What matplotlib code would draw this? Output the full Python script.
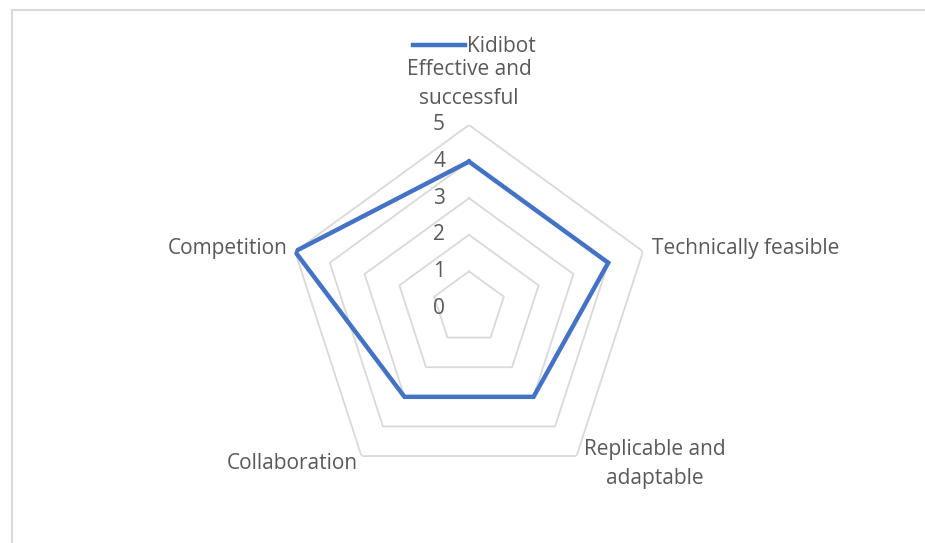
import numpy as np
import matplotlib.pyplot as plt
from matplotlib.lines import Line2D

categories = ['Effective and\nsuccessful', 'Technically feasible', 'Replicable and\nadaptable',
              'Collaboration', 'Competition']
kidibot = [4, 4, 3, 3, 5]
rings = [1, 2, 3, 4, 5]

plt.rcParams['font.family'] = ['Open Sans', 'DejaVu Sans']
text_color = '#595959'
grid_color = '#D9D9D9'
blue = '#4472C4'
fs = 15

fig = plt.figure(figsize=(9.25, 5.43), dpi=100)
ax = fig.add_axes([286 / 925, 52 / 543, 366 / 925, 366 / 543], projection='polar')
ax.set_theta_zero_location('N')
ax.set_theta_direction(-1)
ax.set_ylim(0, 5)
ax.grid(False)
ax.set_xticks([])
ax.set_yticks([])
ax.spines['polar'].set_visible(False)
ax.patch.set_alpha(0)

theta = np.linspace(0, 2 * np.pi, len(categories), endpoint=False)
theta_closed = np.append(theta, theta[0])

# pentagon grid
for r in rings:
    ax.plot(theta_closed, [r] * len(theta_closed), color=grid_color, lw=1.3, zorder=1)

vals = np.append(kidibot, kidibot[0])
ax.plot(theta_closed, vals, color=blue, lw=3.2, solid_joinstyle='miter', zorder=3, label='Kidibot')

# radial tick labels
for r in [0] + rings:
    ax.annotate(str(r), xy=(0, r), xytext=(-30, 0), textcoords='offset pixels',
                ha='center', va='center', fontsize=fs, color=text_color)

# category labels
offsets = [(0, 41, 'center'), (9, 3, 'left'), (78, -8, 'center'), (-4, -7, 'right'), (-7, 3, 'right')]
for t, lab, (dx, dy, ha) in zip(theta, categories, offsets):
    ax.annotate(lab, xy=(t, 5), xytext=(dx, dy), textcoords='offset pixels',
                ha=ha, va='center', fontsize=fs, color=text_color, linespacing=1.5)

fig.legend(loc='center', bbox_to_anchor=(474 / 925, 1 - 47 / 543), frameon=False,
           handlelength=2.5, handletextpad=0.1, fontsize=fs, labelcolor=text_color)

# chart border (top and left)
fig.add_artist(Line2D([12 / 925, 1], [1 - 10 / 543, 1 - 10 / 543], color=grid_color, lw=1.5,
                      transform=fig.transFigure))
fig.add_artist(Line2D([12 / 925, 12 / 925], [0, 1 - 10 / 543], color=grid_color, lw=1.5,
                      transform=fig.transFigure))

fig.savefig('out.png', dpi=100)
